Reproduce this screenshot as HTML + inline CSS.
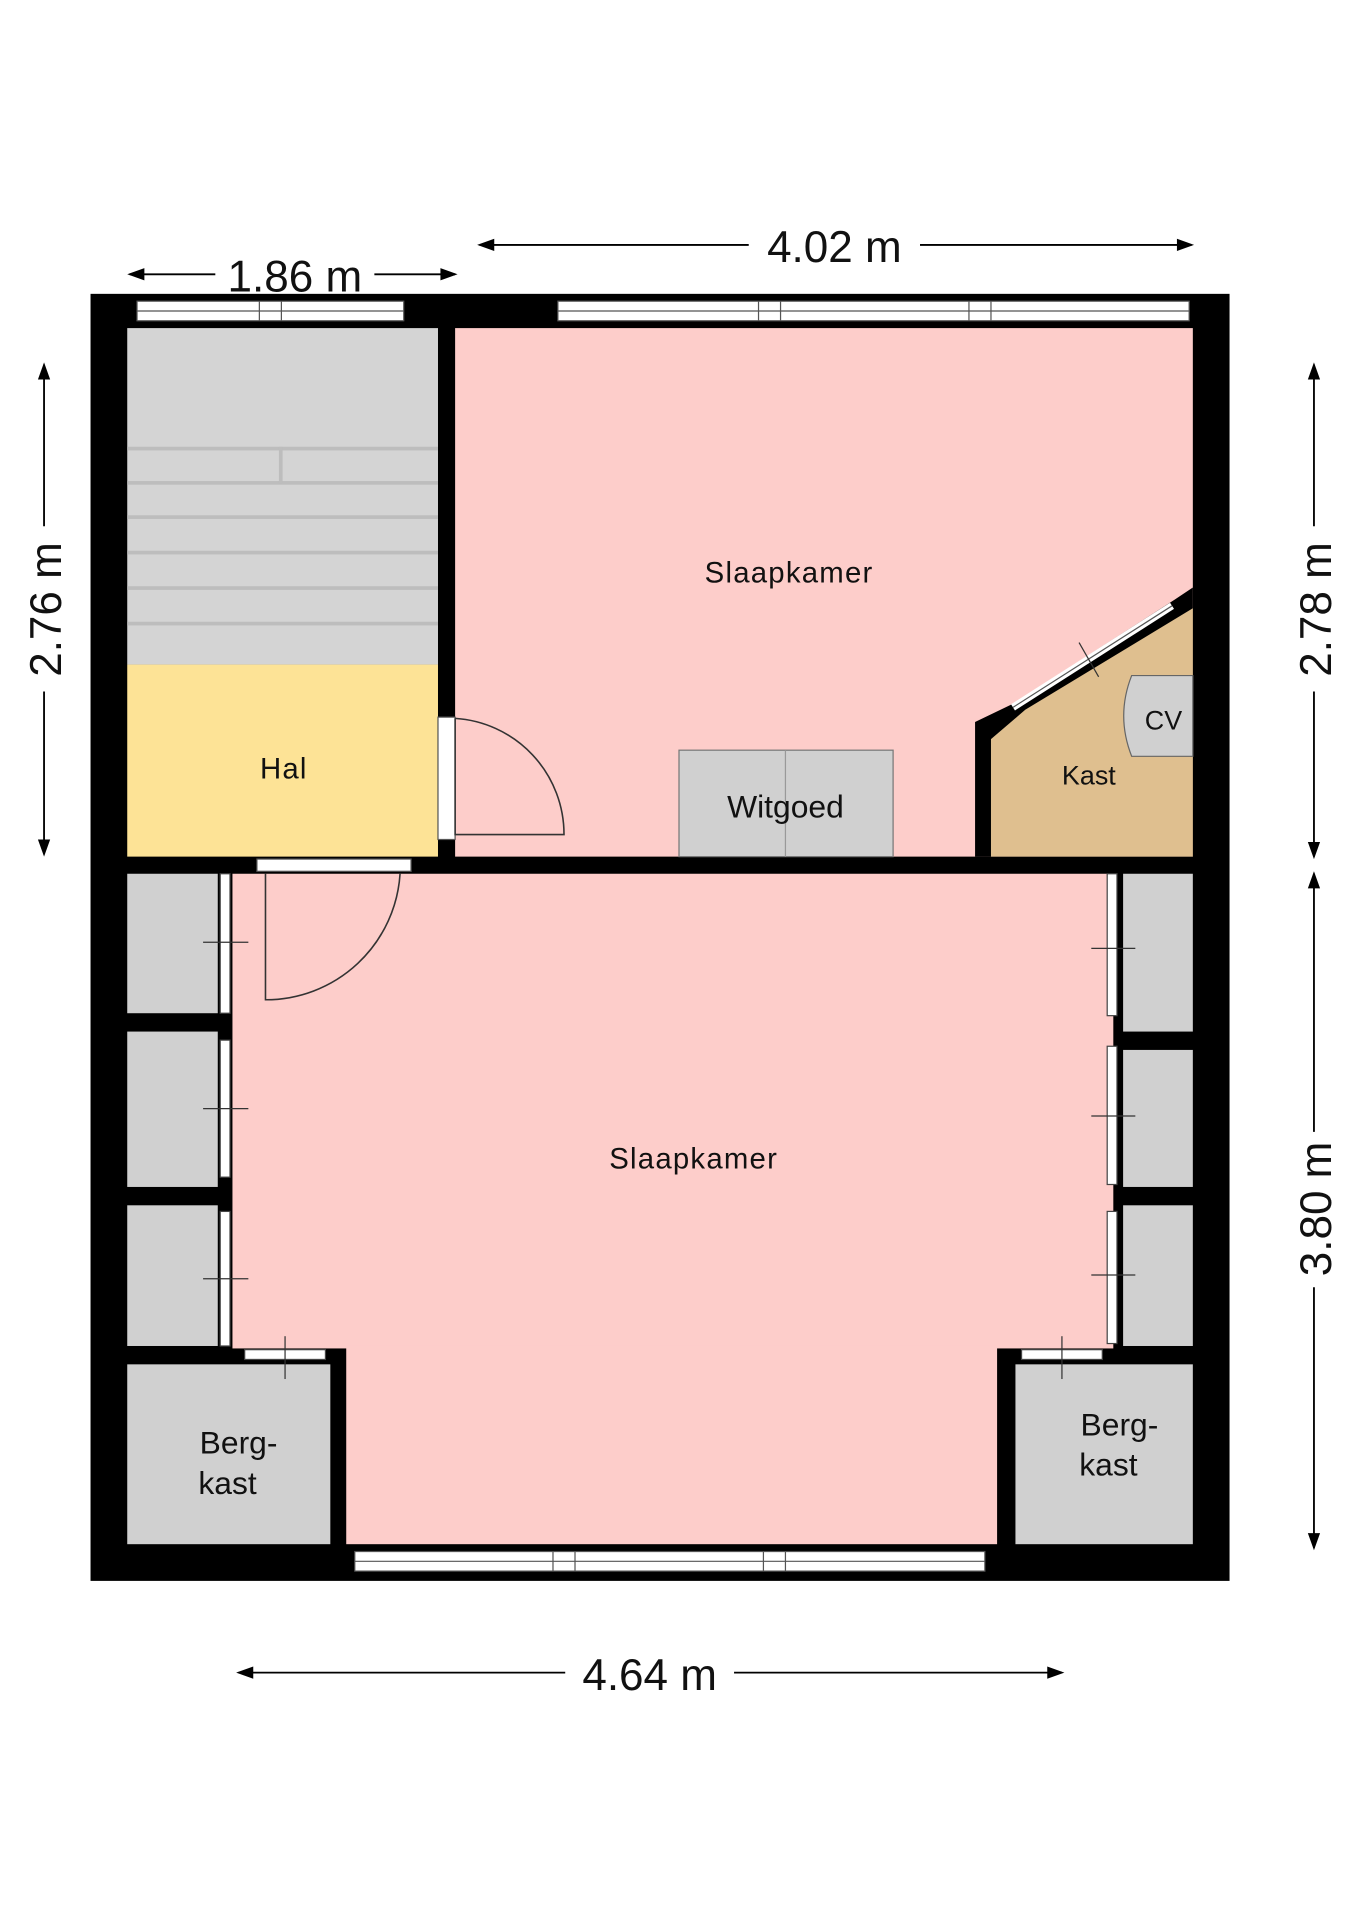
<!DOCTYPE html>
<html><head><meta charset="utf-8"><style>html,body{margin:0;padding:0;background:#fff}svg{display:block}</style></head>
<body>
<svg width="1358" height="1920" viewBox="0 0 1110 1569" xmlns="http://www.w3.org/2000/svg" font-family="Liberation Sans, sans-serif">
<rect width="1110" height="1569" fill="#fff"/>
<!-- outer wall -->
<rect x="74" y="240" width="931" height="1052" fill="#000"/>
<!-- stairs -->
<rect x="104" y="268" width="254" height="275" fill="#d4d4d4"/>
<g fill="#bdbdbd">
<rect x="104" y="365" width="254" height="3"/><rect x="104" y="393" width="254" height="3"/><rect x="104" y="421" width="254" height="3"/><rect x="104" y="450" width="254" height="3"/><rect x="104" y="479" width="254" height="3"/><rect x="104" y="508" width="254" height="3"/><rect x="228" y="365" width="3" height="30"/>
</g>
<!-- hal -->
<rect x="104" y="543" width="254" height="157" fill="#fde396"/>
<!-- upper bedroom -->
<rect x="372" y="268" width="603" height="432" fill="#fdcdca"/>
<!-- kast -->
<polygon points="797,700 797,590 828,575 960,490 975,480 975,700" fill="#000"/>
<polygon points="810,700 810,604 838,580 975,497 975,700" fill="#dfbf8f"/>
<line x1="828" y1="578" x2="958" y2="495" stroke="#fff" stroke-width="6"/>
<line x1="828" y1="578" x2="958" y2="495" stroke="#555" stroke-width="1"/>
<line x1="882" y1="525" x2="898" y2="553" stroke="#333" stroke-width="1"/>
<path d="M975 552 H925 Q912 585 925 618 H975 Z" fill="#d0d0d0" stroke="#666"/>
<text x="951" y="596" font-size="22" text-anchor="middle" fill="#111">CV</text>
<text x="890" y="641" font-size="22" text-anchor="middle" fill="#111">Kast</text>
<!-- witgoed -->
<rect x="555" y="613" width="175" height="87" fill="#d0d0d0" stroke="#777"/>
<line x1="642" y1="613" x2="642" y2="700" stroke="#999"/>
<text x="642" y="668" font-size="26" text-anchor="middle" fill="#111">Witgoed</text>
<!-- lower bedroom -->
<rect x="190" y="714" width="720" height="388" fill="#fdcdca"/>
<rect x="283" y="1100" width="532" height="162" fill="#fdcdca"/>
<!-- left closets -->
<g fill="#d0d0d0">
<rect x="104" y="714" width="74" height="114"/><rect x="104" y="843" width="74" height="127"/><rect x="104" y="985" width="74" height="115"/>
<rect x="104" y="1115" width="166" height="147"/>
<rect x="918" y="714" width="57" height="129"/><rect x="918" y="858" width="57" height="112"/><rect x="918" y="985" width="57" height="115"/>
<rect x="830" y="1115" width="145" height="147"/>
</g>
<!-- thin closet fronts -->
<g fill="#fff" stroke="#444" stroke-width="1">
<rect x="180" y="714" width="8" height="114"/><rect x="180" y="850" width="8" height="112"/><rect x="180" y="990" width="8" height="110"/>
<rect x="905" y="714" width="8" height="116"/><rect x="905" y="855" width="8" height="113"/><rect x="905" y="990" width="8" height="108"/>
<rect x="200" y="1103" width="66" height="8"/><rect x="835" y="1103" width="66" height="8"/>
</g>
<g stroke="#333" stroke-width="1">
<line x1="166" y1="770" x2="203" y2="770"/><line x1="166" y1="906" x2="203" y2="906"/><line x1="166" y1="1045" x2="203" y2="1045"/>
<line x1="892" y1="775" x2="928" y2="775"/><line x1="892" y1="912" x2="928" y2="912"/><line x1="892" y1="1042" x2="928" y2="1042"/>
<line x1="233" y1="1092" x2="233" y2="1127"/><line x1="868" y1="1092" x2="868" y2="1127"/>
</g>
<!-- windows -->
<g fill="#fff" stroke="#555" stroke-width="1">
<rect x="112" y="246" width="218" height="16"/><rect x="456" y="246" width="516" height="16"/>
<rect x="290" y="1268" width="515" height="16"/>
<rect x="358" y="586" width="14" height="100"/>
<rect x="210" y="702" width="126" height="10"/>
</g>
<g stroke="#555" stroke-width="1">
<line x1="112" y1="254" x2="330" y2="254"/><line x1="456" y1="254" x2="972" y2="254"/><line x1="290" y1="1276" x2="805" y2="1276"/>
<line x1="212" y1="246" x2="212" y2="262"/><line x1="230" y1="246" x2="230" y2="262"/>
<line x1="620" y1="246" x2="620" y2="262"/><line x1="638" y1="246" x2="638" y2="262"/>
<line x1="792" y1="246" x2="792" y2="262"/><line x1="810" y1="246" x2="810" y2="262"/>
<line x1="452" y1="1268" x2="452" y2="1284"/><line x1="470" y1="1268" x2="470" y2="1284"/>
<line x1="624" y1="1268" x2="624" y2="1284"/><line x1="642" y1="1268" x2="642" y2="1284"/>
</g>
<!-- doors -->
<g fill="none" stroke="#333" stroke-width="1.3">
<path d="M372 587 L372 682 L461 682 A95 95 0 0 0 372 587"/>
<path d="M217 714 L217 817 A110 110 0 0 0 327 714"/>
</g>
<!-- labels -->
<g font-size="24" fill="#111" text-anchor="middle" letter-spacing="1">
<text x="645" y="476">Slaapkamer</text>
<text x="232" y="636">Hal</text>
<text x="567" y="955">Slaapkamer</text>
<text x="195" y="1188" font-size="26" letter-spacing="0">Berg-</text><text x="186" y="1221" font-size="26" letter-spacing="0">kast</text>
<text x="915" y="1173" font-size="26" letter-spacing="0">Berg-</text><text x="906" y="1206" font-size="26" letter-spacing="0">kast</text>
</g>
<!-- dimensions -->
<g stroke="#000" stroke-width="1.5" fill="#000">
<line x1="106" y1="224" x2="176" y2="224"/><line x1="306" y1="224" x2="372" y2="224"/>
<line x1="392" y1="200" x2="612" y2="200"/><line x1="752" y1="200" x2="974" y2="200"/>
<line x1="195" y1="1367" x2="462" y2="1367"/><line x1="600" y1="1367" x2="868" y2="1367"/>
<line x1="36" y1="298" x2="36" y2="430"/><line x1="36" y1="565" x2="36" y2="698"/>
<line x1="1074" y1="298" x2="1074" y2="430"/><line x1="1074" y1="565" x2="1074" y2="700"/>
<line x1="1074" y1="714" x2="1074" y2="925"/><line x1="1074" y1="1052" x2="1074" y2="1265"/>
</g>
<g fill="#000">
<polygon points="104,224 118,219 118,229"/><polygon points="374,224 360,219 360,229"/>
<polygon points="390,200 404,195 404,205"/><polygon points="976,200 962,195 962,205"/>
<polygon points="193,1367 207,1362 207,1372"/><polygon points="870,1367 856,1362 856,1372"/>
<polygon points="36,296 31,310 41,310"/><polygon points="36,700 31,686 41,686"/>
<polygon points="1074,296 1069,310 1079,310"/><polygon points="1074,702 1069,688 1079,688"/>
<polygon points="1074,712 1069,726 1079,726"/><polygon points="1074,1267 1069,1253 1079,1253"/>
</g>
<g font-size="36" fill="#111" text-anchor="middle">
<text x="241" y="238">1.86 m</text>
<text x="682" y="214">4.02 m</text>
<text x="531" y="1381">4.64 m</text>
<text transform="translate(50,498) rotate(-90)">2.76 m</text>
<text transform="translate(1088,498) rotate(-90)">2.78 m</text>
<text transform="translate(1088,988) rotate(-90)">3.80 m</text>
</g>
</svg>
</body></html>
